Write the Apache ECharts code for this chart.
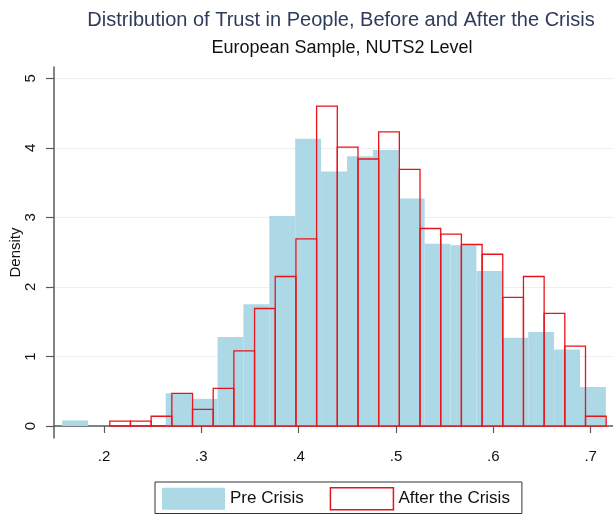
<!DOCTYPE html>
<html>
<head>
<meta charset="utf-8">
<script src="https://cdn.jsdelivr.net/npm/echarts@6/dist/echarts.min.js"></script>
<style>
  html, body { margin: 0; padding: 0; background: #fff; }
  #chart { width: 613px; height: 517px; }
</style>
</head>
<body>
<div id="chart"></div>
<script>
// histogram bins: left edge of first bin and bin width, then density per bin
const preStart = 0.157
const preWidth = 0.0266
const preDensity = [0.08, 0, 0, 0, 0.47, 0.39, 1.28, 1.75, 3.02, 4.13, 3.66, 3.88, 3.97, 3.27, 2.62, 2.60, 2.23, 1.27, 1.35, 1.10, 0.56]

const afterStart = 0.2059
const afterWidth = 0.02125
const afterDensity = [0.07, 0.07, 0.14, 0.47, 0.24, 0.54, 1.08, 1.69, 2.15, 2.69, 4.60, 4.01, 3.84, 4.23, 3.69, 2.84, 2.76, 2.61, 2.47, 1.85, 2.15, 1.62, 1.15, 0.14]

const xTicks = [0.2, 0.3, 0.4, 0.5, 0.6, 0.7]
const yTicks = [0, 1, 2, 3, 4, 5]
const seriesNames = ['Pre Crisis', 'After the Crisis']

const BLUE = '#add8e6'
const RED = '#e8141c'
const AXIS = '#5a5a5a'
const FONT = '"Liberation Sans", Arial, sans-serif'

const toBins = (start, width, dens) =>
  dens.map((d, i) => [start + i * width, start + (i + 1) * width, d])

const barRenderer = (style) => (params, api) => {
  const h = api.value(2)
  if (!h) return null
  const p0 = api.coord([api.value(0), h])
  const p1 = api.coord([api.value(1), 0])
  return {
    type: 'rect',
    shape: { x: p0[0], y: p0[1], width: p1[0] - p0[0], height: p1[1] - p0[1] },
    style: style
  }
}

const chart = echarts.init(document.getElementById('chart'))

const option = {
  animation: false,
  backgroundColor: '#fff',
  title: [
    {
      text: 'Distribution of Trust in People, Before and After the Crisis',
      left: 336,
      top: 5,
      textAlign: 'center',
      textStyle: { fontFamily: FONT, fontSize: 20, fontWeight: 'normal', color: '#2f3b5a' }
    },
    {
      text: 'European Sample, NUTS2 Level',
      left: 337,
      top: 34,
      textAlign: 'center',
      textStyle: { fontFamily: FONT, fontSize: 18, fontWeight: 'normal', color: '#111' }
    }
  ],
  legend: {
    left: 155,
    top: 482,
    padding: [5, 12, 3, 7],
    borderColor: '#333',
    borderWidth: 1,
    icon: 'rect',
    itemWidth: 63,
    itemHeight: 22,
    itemGap: 26,
    textStyle: { fontFamily: FONT, fontSize: 17, color: '#111' },
    data: [
      { name: seriesNames[0], itemStyle: { color: BLUE, borderWidth: 0 } },
      { name: seriesNames[1], itemStyle: { color: '#fff', borderColor: RED, borderWidth: 1.5 } }
    ]
  },
  grid: {
    left: 54,
    right: 0,
    top: 67,
    bottom: 79,
    containLabel: false,
    outerBoundsMode: 'none'
  },
  xAxis: {
    type: 'value',
    min: 0.1486,
    max: 0.7229,
    axisLine: { show: true, lineStyle: { color: AXIS, width: 1.5 } },
    axisTick: { show: true, length: 7, customValues: xTicks, lineStyle: { color: AXIS, width: 1.2 } },
    axisLabel: {
      customValues: xTicks,
      margin: 11,
      fontFamily: FONT,
      fontSize: 15,
      color: '#111',
      formatter: (v) => v.toFixed(1).replace(/^0/, '')
    },
    splitLine: { show: false }
  },
  yAxis: {
    type: 'value',
    min: -0.1727,
    max: 5.163,
    name: 'Density',
    nameLocation: 'middle',
    nameRotate: 90,
    nameGap: 31,
    nameMoveOverlap: false,
    nameTextStyle: { fontFamily: FONT, fontSize: 15, color: '#111' },
    axisLine: { show: true, lineStyle: { color: AXIS, width: 1.5 } },
    axisTick: { show: true, length: 8, customValues: yTicks, lineStyle: { color: AXIS, width: 1.2 } },
    axisLabel: {
      customValues: yTicks,
      rotate: 90,
      margin: 16,
      fontFamily: FONT,
      fontSize: 15,
      color: '#111'
    },
    splitLine: { show: true, lineStyle: { color: '#eceef0', width: 1.2 } }
  },
  series: [
    {
      name: seriesNames[0],
      type: 'custom',
      renderItem: barRenderer({ fill: BLUE, stroke: null }),
      encode: { x: [0, 1], y: 2 },
      itemStyle: { color: BLUE },
      data: toBins(preStart, preWidth, preDensity)
    },
    {
      name: seriesNames[1],
      type: 'custom',
      renderItem: barRenderer({ fill: null, stroke: RED, lineWidth: 1.3 }),
      encode: { x: [0, 1], y: 2 },
      itemStyle: { color: '#fff', borderColor: RED },
      data: toBins(afterStart, afterWidth, afterDensity)
    }
  ]
}

chart.setOption(option)
</script>
</body>
</html>
